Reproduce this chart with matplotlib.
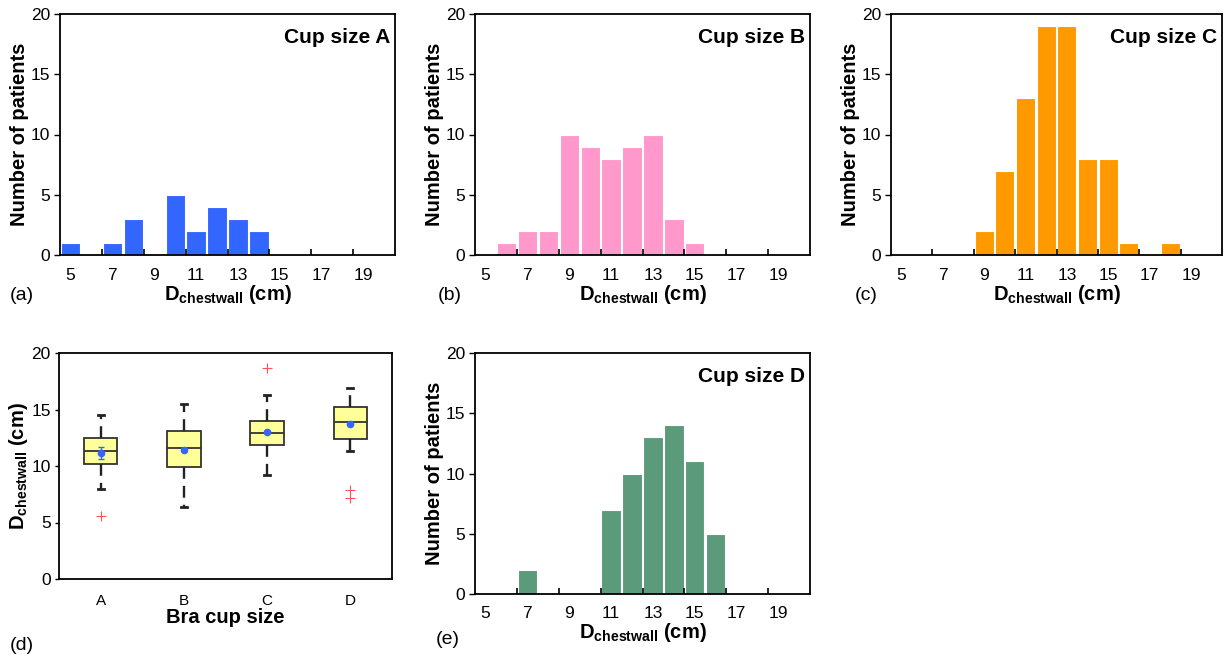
import numpy as np
import matplotlib
matplotlib.use('Agg')
import matplotlib.pyplot as plt

plt.rcParams['font.family'] = ['Liberation Sans', 'DejaVu Sans']
plt.rcParams['mathtext.fontset'] = 'custom'
plt.rcParams['mathtext.rm'] = 'Liberation Sans'
plt.rcParams['mathtext.bf'] = 'Liberation Sans:bold'

# histogram bins: D_chestwall in cm, one bin per integer
bins = np.arange(5, 21)
counts_a = [1, 0, 1, 3, 0, 5, 2, 4, 3, 2, 0, 0, 0, 0, 0, 0]
counts_b = [0, 1, 2, 2, 10, 9, 8, 9, 10, 3, 1, 0, 0, 0, 0, 0]
counts_c = [0, 0, 0, 0, 2, 7, 13, 19, 19, 8, 8, 1, 0, 1, 0, 0]
counts_d = [0, 0, 2, 0, 0, 0, 7, 10, 13, 14, 11, 5, 0, 0, 0, 0]

# box plot summary per bra cup size
cups = ['A', 'B', 'C', 'D']
box_q1 = [10.15, 9.95, 11.9, 12.35]
box_med = [11.35, 11.6, 12.9, 13.9]
box_q3 = [12.45, 13.1, 13.95, 15.2]
whisk_lo = [8.0, 6.35, 9.2, 11.3]
whisk_hi = [14.5, 15.5, 16.3, 16.9]
means = [11.15, 11.45, 13.0, 13.75]
mean_err = [0.5, 0.15, 0.12, 0.15]
outliers = [[5.6], [], [18.7], [7.9, 7.2]]

W, H = 1231, 658
fig = plt.figure(figsize=(W / 100, H / 100), dpi=100)


def axes_px(left, top, right, bottom):
    return fig.add_axes([left / W, 1 - bottom / H, (right - left) / W, (bottom - top) / H])


xlab = r'$\mathbf{D}_{\mathbf{chestwall}}$ (cm)'
LAB = 14.5
TICK = 12.5


def hist_panel(ax, counts, color, title):
    ax.bar(bins, counts, width=0.92, color=color, edgecolor='white', linewidth=0.8)
    ax.set_xlim(4.5, 20.5)
    ax.set_ylim(0, 20)
    ax.set_yticks([0, 5, 10, 15, 20])
    ax.set_xticks(np.arange(6.5, 19, 2))
    ax.set_xticklabels([])
    ax.set_xticks(np.arange(5, 20, 2), minor=True)
    ax.set_xticklabels([str(v) for v in range(5, 20, 2)], minor=True)
    ax.tick_params(axis='x', which='major', direction='in', length=4, width=1.2)
    ax.tick_params(axis='x', which='minor', length=0, pad=9, labelsize=TICK)
    ax.tick_params(axis='y', direction='out', length=4, width=1, labelsize=TICK, pad=3)
    for s in ax.spines.values():
        s.set_linewidth(1.3)
    ax.text(0.985, 0.94, title, transform=ax.transAxes, ha='right', va='top',
            fontsize=15, fontweight='bold')
    ax.set_ylabel('Number of patients', fontsize=LAB, fontweight='bold', labelpad=1)
    ax.set_xlabel(xlab, fontsize=LAB, fontweight='bold', labelpad=0)


ax_a = axes_px(60, 14, 395, 255)
hist_panel(ax_a, counts_a, '#3366ff', 'Cup size A')
ax_b = axes_px(475, 14, 810, 255)
hist_panel(ax_b, counts_b, '#ff99cc', 'Cup size B')
ax_c = axes_px(891, 14, 1222, 255)
hist_panel(ax_c, counts_c, '#ff9900', 'Cup size C')
ax_e = axes_px(475, 353, 810, 594)
hist_panel(ax_e, counts_d, '#5b9a7a', 'Cup size D')

# box plot
ax_d = axes_px(59, 353, 392, 579)
stats = []
for i in range(4):
    stats.append({'q1': box_q1[i], 'med': box_med[i], 'q3': box_q3[i],
                  'whislo': whisk_lo[i], 'whishi': whisk_hi[i],
                  'fliers': outliers[i], 'label': cups[i]})
pos = np.arange(1, 5)
ax_d.bxp(stats, positions=pos, widths=0.4, patch_artist=True, showfliers=True,
         boxprops=dict(facecolor='#ffff99', edgecolor='#333333', linewidth=1.3),
         medianprops=dict(color='#333333', linewidth=1.3),
         whiskerprops=dict(color='#222222', linewidth=1.7, linestyle=(0, (5, 3))),
         capprops=dict(color='#222222', linewidth=2.0),
         capwidths=0.07,
         flierprops=dict(marker='+', markeredgecolor='#ff5555', markersize=7,
                         markeredgewidth=0.8, linestyle='none'))
ax_d.errorbar(pos, means, yerr=mean_err, fmt='o', color='#3366ff', markersize=4.5,
              elinewidth=1, capsize=2.5, zorder=5)
ax_d.set_xlim(0.5, 4.5)
ax_d.set_ylim(0, 20)
ax_d.set_yticks([0, 5, 10, 15, 20])
ax_d.set_xticks(pos)
ax_d.set_xticklabels(cups)
ax_d.tick_params(axis='x', length=0, pad=11, labelsize=11)
ax_d.tick_params(axis='y', direction='out', length=3, width=1, labelsize=TICK, pad=3)
for s in ax_d.spines.values():
    s.set_linewidth(1.3)
ax_d.set_xlabel('Bra cup size', fontsize=LAB, fontweight='bold', labelpad=0)
ax_d.set_ylabel(xlab, fontsize=LAB, fontweight='bold', labelpad=1)

# panel letters
for txt, x, y in [('(a)', 22, 296), ('(b)', 450, 296), ('(c)', 866, 296),
                  ('(d)', 22, 645), ('(e)', 448, 640)]:
    fig.text(x / W, 1 - y / H, txt, ha='center', va='center', fontsize=14)

fig.savefig('out.png', dpi=100)
